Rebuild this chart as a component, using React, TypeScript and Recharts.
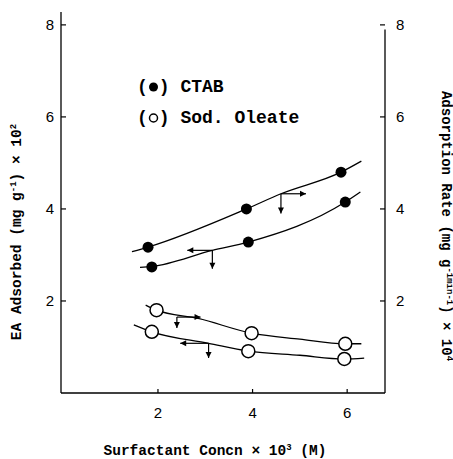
import React from 'react';
import { ComposedChart, Line, Scatter, XAxis, YAxis, ReferenceLine } from 'recharts';

// measured points (x = concentration, y = value)
const ctabRateX = [1.79, 3.87, 5.87];
const ctabRateY = [3.17, 4.0, 4.8];
const ctabAdsX = [1.87, 3.91, 5.96];
const ctabAdsY = [2.74, 3.28, 4.15];
const oleRateX = [1.97, 3.98, 5.96];
const oleRateY = [1.8, 1.3, 1.07];
const oleAdsX = [1.87, 3.91, 5.94];
const oleAdsY = [1.33, 0.91, 0.74];

// fitted curves
const ctabRateCurveX = [1.45, 1.79, 3.87, 4.6, 5.87, 6.3];
const ctabRateCurveY = [3.07, 3.17, 4.0, 4.33, 4.8, 5.04];
const ctabAdsCurveX = [1.62, 1.87, 3.15, 3.91, 5.96, 6.28];
const ctabAdsCurveY = [2.73, 2.75, 3.1, 3.28, 4.15, 4.37];
const oleRateCurveX = [1.74, 1.97, 2.85, 3.98, 5.0, 5.96, 6.3];
const oleRateCurveY = [1.91, 1.8, 1.62, 1.3, 1.17, 1.07, 1.07];
const oleAdsCurveX = [1.49, 1.87, 3.07, 3.91, 5.0, 5.94, 6.36];
const oleAdsCurveY = [1.48, 1.33, 1.08, 0.91, 0.82, 0.74, 0.76];

// axis-indicating arrows: junction (x, y), horizontal end hx, vertical end vy
const arrowX = [4.6, 3.15, 2.4, 3.07];
const arrowY = [4.33, 3.1, 1.65, 1.08];
const arrowHX = [5.13, 2.62, 2.9, 2.47];
const arrowVY = [3.9, 2.7, 1.41, 0.76];

const xTicks = [2, 4, 6];
const yTicks = [2, 4, 6, 8];
const xDomain = [-0.05, 6.8];
const yDomain = [0, 8.28];

const zip = (xs: number[], ys: number[]) => xs.map((x, i) => ({ x, y: ys[i] }));

const mono = '"Liberation Mono", "DejaVu Sans Mono", monospace';
const sans = '"Liberation Sans", Arial, sans-serif';

const LeftTick = (p: any) => (
  <g>
    <line x1={p.x} y1={p.y} x2={p.x + 5} y2={p.y} stroke="#000" strokeWidth={1.2} />
    <text x={p.x - 7} y={p.y + 5} textAnchor="end" fontFamily={sans} fontSize={15} fill="#000">
      {p.payload.value}
    </text>
  </g>
);

const RightTick = (p: any) => (
  <g>
    <line x1={p.x} y1={p.y} x2={p.x - 5} y2={p.y} stroke="#000" strokeWidth={1.2} />
    <text x={p.x + 11} y={p.y + 5} textAnchor="start" fontFamily={sans} fontSize={15} fill="#000">
      {p.payload.value}
    </text>
  </g>
);

const BottomTick = (p: any) => (
  <g>
    <line x1={p.x} y1={p.y} x2={p.x} y2={p.y - 4} stroke="#000" strokeWidth={1.2} />
    <text x={p.x} y={p.y + 25} textAnchor="middle" fontFamily={sans} fontSize={15} fill="#000">
      {p.payload.value}
    </text>
  </g>
);

const Filled = (p: any) => <circle cx={p.cx} cy={p.cy} r={5.5} fill="#000" />;
const Open = (p: any) => <circle cx={p.cx} cy={p.cy} r={6.5} fill="#fff" stroke="#000" strokeWidth={1.5} />;

const arrowShape = (dir: 'h' | 'v') => (p: any) => {
  const { x1, y1, x2, y2 } = p;
  const len = 6;
  const w = 3;
  let head = '';
  if (dir === 'h') {
    const s = Math.sign(x2 - x1) || 1;
    head = `${x2},${y2} ${x2 - s * len},${y2 - w} ${x2 - s * len},${y2 + w}`;
  } else {
    const s = Math.sign(y2 - y1) || 1;
    head = `${x2},${y2} ${x2 - w},${y2 - s * len} ${x2 + w},${y2 - s * len}`;
  }
  return (
    <g>
      <line x1={x1} y1={y1} x2={x2} y2={y2} stroke="#000" strokeWidth={1.2} />
      <polygon points={head} fill="#000" />
    </g>
  );
};

const LegendBox = () => (
  <div
    style={{
      position: 'absolute',
      left: 137,
      top: 72,
      fontFamily: mono,
      fontWeight: 'bold',
      fontSize: 18,
      lineHeight: '31px',
      color: '#000',
      whiteSpace: 'nowrap',
    }}
  >
    <div>
      (<svg width={11} height={12} style={{ verticalAlign: 'middle' }}><circle cx={5.5} cy={6} r={4.5} fill="#000" /></svg>) CTAB
    </div>
    <div>
      (<svg width={11} height={12} style={{ verticalAlign: 'middle' }}><circle cx={5.5} cy={6} r={4} fill="#fff" stroke="#000" strokeWidth={1.5} /></svg>) Sod. Oleate
    </div>
  </div>
);

const sup = (s: string) => (
  <tspan baselineShift="super" fontSize={9}>
    {s}
  </tspan>
);

export default function App() {
  return (
    <div style={{ position: 'absolute', left: 0, top: 0, width: 453, height: 459, background: '#fff' }}>
      <ComposedChart width={453} height={459} margin={{ top: 12, right: 0, bottom: 0, left: 0 }}>
        <XAxis
          dataKey="x"
          type="number"
          domain={xDomain}
          ticks={xTicks}
          height={66}
          tickSize={0}
          tickMargin={0}
          tickLine={false}
          tick={<BottomTick />}
          axisLine={{ stroke: '#000', strokeWidth: 1.3 }}
          allowDataOverflow
        />
        <YAxis
          yAxisId="left"
          type="number"
          domain={yDomain}
          ticks={yTicks}
          width={61}
          tickSize={0}
          tickMargin={0}
          tickLine={false}
          tick={<LeftTick />}
          axisLine={{ stroke: '#000', strokeWidth: 1.3 }}
          allowDataOverflow
        />
        <YAxis
          yAxisId="right"
          orientation="right"
          type="number"
          domain={yDomain}
          ticks={yTicks}
          width={68}
          tickSize={0}
          tickMargin={0}
          tickLine={false}
          tick={<RightTick />}
          axisLine={false}
          allowDataOverflow
        />
        <ReferenceLine
          yAxisId="right"
          segment={[{ x: xDomain[1], y: 0 }, { x: xDomain[1], y: 7.9 }]}
          stroke="#000"
          strokeWidth={1.3}
          ifOverflow="visible"
        />

        <Line yAxisId="right" data={zip(ctabRateCurveX, ctabRateCurveY)} dataKey="y" type="monotone" stroke="#000" strokeWidth={1.3} dot={false} activeDot={false} isAnimationActive={false} />
        <Line yAxisId="left" data={zip(ctabAdsCurveX, ctabAdsCurveY)} dataKey="y" type="monotone" stroke="#000" strokeWidth={1.3} dot={false} activeDot={false} isAnimationActive={false} />
        <Line yAxisId="right" data={zip(oleRateCurveX, oleRateCurveY)} dataKey="y" type="monotone" stroke="#000" strokeWidth={1.3} dot={false} activeDot={false} isAnimationActive={false} />
        <Line yAxisId="left" data={zip(oleAdsCurveX, oleAdsCurveY)} dataKey="y" type="monotone" stroke="#000" strokeWidth={1.3} dot={false} activeDot={false} isAnimationActive={false} />

        {arrowX.map((x, i) => (
          <ReferenceLine
            key={'h' + i}
            yAxisId="left"
            segment={[{ x, y: arrowY[i] }, { x: arrowHX[i], y: arrowY[i] }]}
            shape={arrowShape('h')}
          />
        ))}
        {arrowX.map((x, i) => (
          <ReferenceLine
            key={'v' + i}
            yAxisId="left"
            segment={[{ x, y: arrowY[i] }, { x, y: arrowVY[i] }]}
            shape={arrowShape('v')}
          />
        ))}

        <Scatter yAxisId="right" data={zip(ctabRateX, ctabRateY)} dataKey="y" shape={<Filled />} isAnimationActive={false} />
        <Scatter yAxisId="left" data={zip(ctabAdsX, ctabAdsY)} dataKey="y" shape={<Filled />} isAnimationActive={false} />
        <Scatter yAxisId="right" data={zip(oleRateX, oleRateY)} dataKey="y" shape={<Open />} isAnimationActive={false} />
        <Scatter yAxisId="left" data={zip(oleAdsX, oleAdsY)} dataKey="y" shape={<Open />} isAnimationActive={false} />

        <text
          transform="translate(21,232) rotate(-90)"
          textAnchor="middle"
          fontFamily={mono}
          fontWeight="bold"
          fontSize={14.5}
          fill="#000"
        >
          EA Adsorbed (mg g{sup('-1')}) × 10{sup('2')}
        </text>
        <text
          transform="translate(442,226) rotate(90)"
          textAnchor="middle"
          fontFamily={mono}
          fontWeight="bold"
          fontSize={14}
          fill="#000"
        >
          Adsorption Rate (mg g{sup('-1')}{sup('min')}{sup('-1')}) × 10{sup('4')}
        </text>
        <text x={215} y={455} textAnchor="middle" fontFamily={mono} fontWeight="bold" fontSize={14.5} fill="#000">
          Surfactant Concn × 10{sup('3')} (M)
        </text>
      </ComposedChart>
      <LegendBox />
    </div>
  );
}
